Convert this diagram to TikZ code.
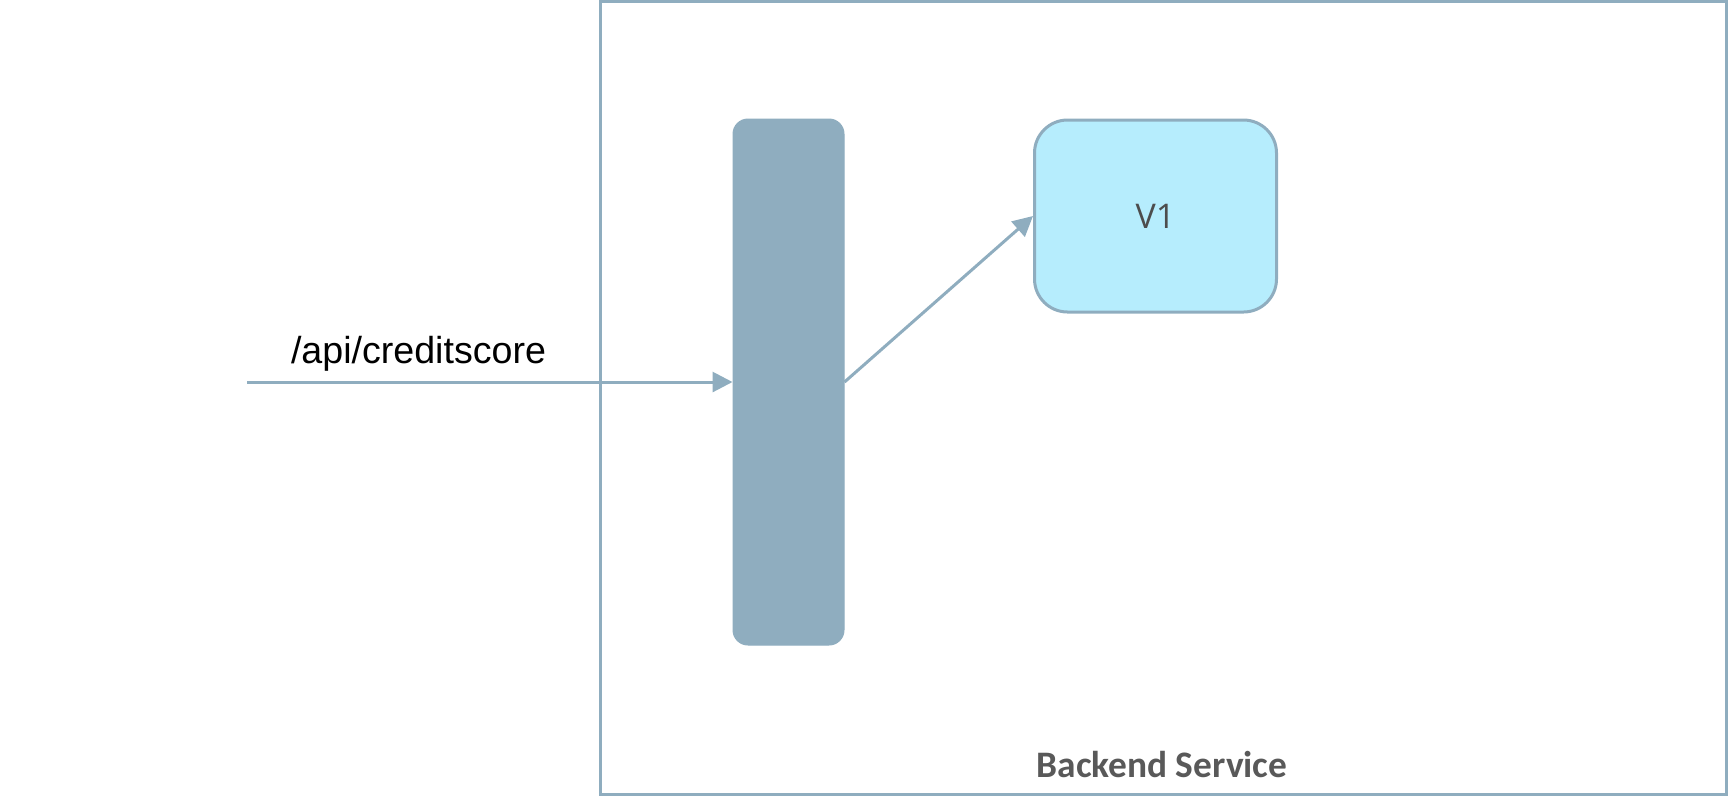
\documentclass[tikz,border=0pt]{standalone}
\usepackage{fontspec}
\setmainfont{Liberation Sans}
\newfontfamily\carlito{Carlito}
\newfontfamily\opensans{Open Sans}
\usetikzlibrary{arrows.meta}
\definecolor{steel}{HTML}{8FADBF}
\definecolor{lightcyan}{HTML}{B6EDFD}
\definecolor{labelgray}{HTML}{595959}
\definecolor{vgray}{HTML}{4D4D4D}
\tikzset{
  frame/.style={draw=steel, line width=1.5pt, minimum width=563pt, minimum height=396.5pt, inner sep=0pt},
  gatebar/.style={fill=steel, draw=steel, line width=0.5pt, rounded corners=7.5pt, minimum width=55.5pt, minimum height=263pt, inner sep=0pt},
  versionbox/.style={fill=lightcyan, draw=steel, line width=1.5pt, rounded corners=16.5pt, minimum width=121pt, minimum height=96pt, inner sep=0pt, font=\opensans\fontsize{17pt}{20pt}\selectfont, text=vgray},
  flow/.style={draw=steel, line width=1.5pt, -{Triangle[length=10pt,width=10pt]}},
}
\begin{document}
\begin{tikzpicture}[x=0.5pt,y=-0.5pt]
\useasboundingbox (0,0) rectangle (1729,811);
\node[frame] (svc) at (1163,397.5) {};
\node[anchor=base, font=\carlito\bfseries\fontsize{18.7pt}{22pt}\selectfont, text=labelgray] (svclabel) at (1162,777) {Backend Service};
\node[gatebar] (gw) at (788.5,382) {};
\node[versionbox] (v1) at (1155.5,216) {V1};
\coordinate (src) at (247,382);
\node[anchor=base, font=\fontsize{18.8pt}{22pt}\selectfont] (api) at (418.5,363) {/api/creditscore};
\draw[flow] (src) -- (gw.west);
\draw[flow] (gw.east) -- (v1.west);
\end{tikzpicture}
\end{document}
